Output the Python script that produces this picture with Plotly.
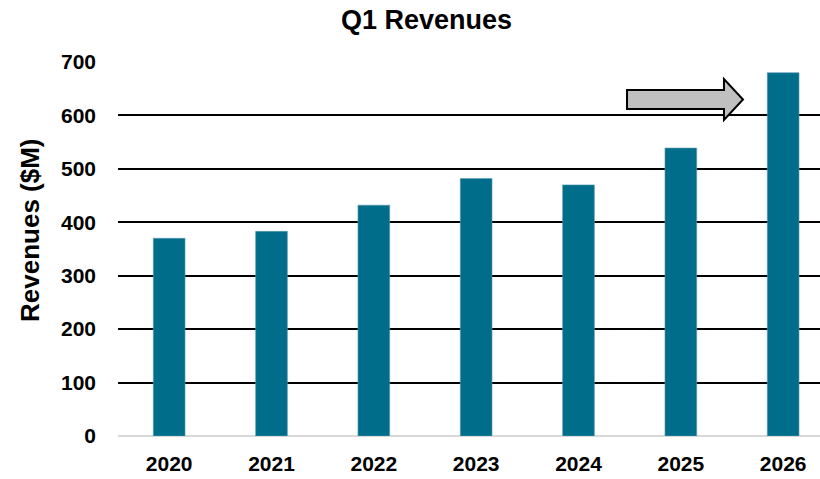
import plotly.graph_objects as go

years = ["2020", "2021", "2022", "2023", "2024", "2025", "2026"]
revenues = [370, 383, 432, 482, 470, 539, 680]
y_ticks = [0, 100, 200, 300, 400, 500, 600, 700]

W, H = 820, 479
L, R, T, B = 118, 0, 62, 43
pw, ph = W - L - R, H - T - B

def px(x):
    return (x - L) / pw

def py(y):
    return (H - B - y) / ph

fig = go.Figure()
fig.add_trace(go.Bar(
    x=years, y=revenues,
    marker=dict(color="#006E8A", line=dict(color="#5B9BB0", width=0.6)),
    width=0.31,
))

# decorative arrow (pixel outline converted to paper coords)
pts = [(627, 90), (724, 90), (724, 79), (743, 99.5), (724, 120), (724, 109), (627, 109)]
path = "M " + " L ".join(f"{px(a):.4f},{py(b):.4f}" for a, b in pts) + " Z"
fig.add_shape(type="path", path=path, xref="paper", yref="paper",
              fillcolor="#C0C0C0", line=dict(color="black", width=2))

fig.add_annotation(text="<b>Q1 Revenues</b>", x=px(426), y=py(19.5), xref="paper", yref="paper",
                   xanchor="center", yanchor="middle", showarrow=False,
                   font=dict(family="Liberation Sans, Arial", size=27, color="black"))

fig.add_annotation(text="<b>Revenues ($M)</b>", x=px(30), y=py(230), xref="paper", yref="paper",
                   xanchor="center", yanchor="middle", showarrow=False, textangle=-90,
                   font=dict(family="Liberation Sans, Arial", size=26, color="black"))

fig.update_layout(
    width=W, height=H,
    margin=dict(l=L, r=R, t=T, b=B, autoexpand=False),
    plot_bgcolor="white", paper_bgcolor="white",
    showlegend=False,
    font=dict(family="Liberation Sans, Arial", color="black"),
    xaxis=dict(
        type="category", range=[-0.5, 6.36],
        tickfont=dict(size=21, family="Liberation Sans, Arial", weight="bold"),
        ticklabelstandoff=13, showgrid=False, showline=False, ticks="",
    ),
    yaxis=dict(
        range=[0, 700], tickvals=y_ticks,
        tickfont=dict(size=21, family="Liberation Sans, Arial", weight="bold"),
        showgrid=True, gridcolor="black", gridwidth=2,
        zeroline=True, zerolinecolor="#D9D9D9", zerolinewidth=2,
        ticks="", ticklabelstandoff=21,
    ),
)
fig.write_html("out.html", config={"displayModeBar": False},
               post_script="document.body.style.margin='0';")
